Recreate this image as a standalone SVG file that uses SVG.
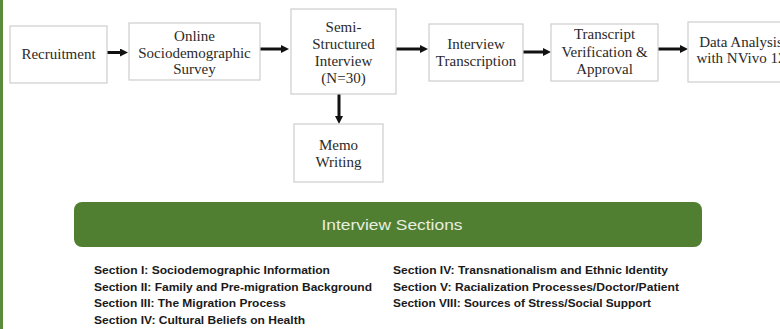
<svg xmlns="http://www.w3.org/2000/svg" width="780" height="329" viewBox="0 0 780 329">
<style>
.box{fill:#ffffff;stroke:#cdcdcd;stroke-width:1.2}
.nt{font-family:"Liberation Serif","Times New Roman",serif;font-size:15px;fill:#2a2a2a;text-anchor:middle}
.conn{stroke:#111111;stroke-width:3;fill:none}
.sec{font-family:"Liberation Sans",Arial,sans-serif;font-size:11.5px;font-weight:bold;fill:#1a1a1a}
.banner{fill:#517f32}
.bt{font-family:"Liberation Sans",Arial,sans-serif;font-size:15.5px;fill:#e8eee0;text-anchor:middle}
</style>
<defs>
<marker id="ah" markerUnits="userSpaceOnUse" markerWidth="8" markerHeight="8" refX="0" refY="4" orient="auto">
<path d="M0,0 L8,4 L0,8 z" fill="#111111"/>
</marker>
</defs>
<rect x="0" y="0" width="780" height="329" fill="#ffffff"/>
<rect x="0" y="0" width="3" height="329" fill="#5a8a3a"/>

<g id="connectors">
<line class="conn" x1="107" y1="52.5" x2="120" y2="52.5" marker-end="url(#ah)"/>
<line class="conn" x1="260" y1="49" x2="281" y2="49" marker-end="url(#ah)"/>
<line class="conn" x1="396" y1="49" x2="420" y2="49" marker-end="url(#ah)"/>
<line class="conn" x1="523" y1="52" x2="543" y2="52" marker-end="url(#ah)"/>
<line class="conn" x1="658" y1="49" x2="680" y2="49" marker-end="url(#ah)"/>
<line class="conn" x1="339" y1="94" x2="339" y2="116" marker-end="url(#ah)"/>
</g>

<g id="recruitment">
<rect class="box" x="10" y="26" width="97" height="57"/>
<text class="nt" x="58.5" y="59">Recruitment</text>
</g>
<g id="survey">
<rect class="box" x="129" y="23" width="131" height="57"/>
<text class="nt" x="194.5" y="40.5">Online</text>
<text class="nt" x="194.5" y="57.5">Sociodemographic</text>
<text class="nt" x="194.5" y="74">Survey</text>
</g>
<g id="interview">
<rect class="box" x="291" y="9" width="105" height="85"/>
<text class="nt" x="343.5" y="31.5">Semi-</text>
<text class="nt" x="343.5" y="49">Structured</text>
<text class="nt" x="343.5" y="65.5">Interview</text>
<text class="nt" x="343.5" y="82.5">(N=30)</text>
</g>
<g id="memo">
<rect class="box" x="294" y="124" width="89" height="58"/>
<text class="nt" x="338.5" y="150">Memo</text>
<text class="nt" x="338.5" y="167">Writing</text>
</g>
<g id="transcription">
<rect class="box" x="429" y="24" width="94" height="57"/>
<text class="nt" x="476" y="49">Interview</text>
<text class="nt" x="476" y="66">Transcription</text>
</g>
<g id="verification">
<rect class="box" x="551" y="24" width="107" height="57"/>
<text class="nt" x="604.5" y="38.5">Transcript</text>
<text class="nt" x="604.5" y="57">Verification &amp;</text>
<text class="nt" x="604.5" y="73.5">Approval</text>
</g>
<g id="analysis">
<rect class="box" x="688" y="22" width="110" height="60"/>
<text class="nt" x="741" y="47">Data Analysis</text>
<text class="nt" x="741" y="63">with NVivo 12</text>
</g>

<g id="sections">
<rect class="banner" x="74" y="202" width="628" height="45" rx="8" ry="8"/>
<text class="bt" x="392" y="230" textLength="141" lengthAdjust="spacingAndGlyphs">Interview Sections</text>
<text class="sec" x="94" y="274" textLength="236" lengthAdjust="spacingAndGlyphs">Section I: Sociodemographic Information</text>
<text class="sec" x="94" y="290.5" textLength="278" lengthAdjust="spacingAndGlyphs">Section II: Family and Pre-migration Background</text>
<text class="sec" x="94" y="307" textLength="192" lengthAdjust="spacingAndGlyphs">Section III: The Migration Process</text>
<text class="sec" x="94" y="323.5" textLength="211" lengthAdjust="spacingAndGlyphs">Section IV: Cultural Beliefs on Health</text>
<text class="sec" x="393" y="274" textLength="275" lengthAdjust="spacingAndGlyphs">Section IV: Transnationalism and Ethnic Identity</text>
<text class="sec" x="393" y="290.5" textLength="286" lengthAdjust="spacingAndGlyphs">Section V: Racialization Processes/Doctor/Patient</text>
<text class="sec" x="393" y="307" textLength="258" lengthAdjust="spacingAndGlyphs">Section VIII: Sources of Stress/Social Support</text>
</g>
</svg>
